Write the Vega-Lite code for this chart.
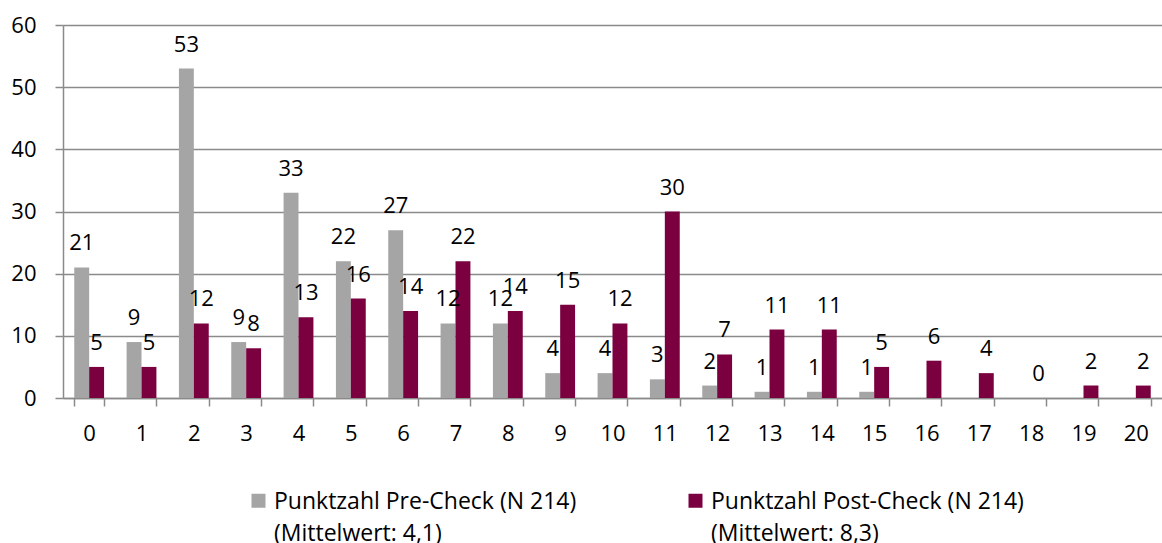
{
  "$schema": "https://vega.github.io/schema/vega-lite/v6.json",
  "width": 1099,
  "height": 373,
  "autosize": {"type": "none"},
  "padding": {"left": 63, "top": 25, "right": 0, "bottom": 145},
  "config": {
    "view": {"stroke": null},
    "font": "Open Sans",
    "style": {"guide-label": {"lineHeight": 32}}
  },
  "data": {
    "values": [
      {"k": 0, "s": "pre", "v": 21}, {"k": 0, "s": "post", "v": 5},
      {"k": 1, "s": "pre", "v": 9}, {"k": 1, "s": "post", "v": 5},
      {"k": 2, "s": "pre", "v": 53}, {"k": 2, "s": "post", "v": 12},
      {"k": 3, "s": "pre", "v": 9}, {"k": 3, "s": "post", "v": 8},
      {"k": 4, "s": "pre", "v": 33}, {"k": 4, "s": "post", "v": 13},
      {"k": 5, "s": "pre", "v": 22}, {"k": 5, "s": "post", "v": 16},
      {"k": 6, "s": "pre", "v": 27}, {"k": 6, "s": "post", "v": 14},
      {"k": 7, "s": "pre", "v": 12}, {"k": 7, "s": "post", "v": 22},
      {"k": 8, "s": "pre", "v": 12}, {"k": 8, "s": "post", "v": 14},
      {"k": 9, "s": "pre", "v": 4}, {"k": 9, "s": "post", "v": 15},
      {"k": 10, "s": "pre", "v": 4}, {"k": 10, "s": "post", "v": 12},
      {"k": 11, "s": "pre", "v": 3}, {"k": 11, "s": "post", "v": 30},
      {"k": 12, "s": "pre", "v": 2}, {"k": 12, "s": "post", "v": 7},
      {"k": 13, "s": "pre", "v": 1}, {"k": 13, "s": "post", "v": 11},
      {"k": 14, "s": "pre", "v": 1}, {"k": 14, "s": "post", "v": 11},
      {"k": 15, "s": "pre", "v": 1}, {"k": 15, "s": "post", "v": 5},
      {"k": 16, "s": "post", "v": 6},
      {"k": 17, "s": "post", "v": 4},
      {"k": 18, "s": "post", "v": 0},
      {"k": 19, "s": "post", "v": 2},
      {"k": 20, "s": "post", "v": 2}
    ]
  },
  "encoding": {
    "x": {
      "field": "k",
      "type": "ordinal",
      "scale": {"paddingInner": 0.43, "paddingOuter": 0.215},
      "axis": {
        "title": null,
        "labelAngle": 0,
        "tickBand": "extent",
        "tickSize": 8,
        "tickColor": "#8a8a8a",
        "tickWidth": 1.5,
        "domainColor": "#8a8a8a",
        "domainWidth": 1.5,
        "labelFontSize": 22,
        "labelColor": "black",
        "labelPadding": 17,
        "grid": false
      }
    },
    "xOffset": {"field": "s", "type": "nominal", "sort": ["pre", "post"], "scale": {"paddingInner": 0, "paddingOuter": 0}},
    "y": {
      "field": "v",
      "type": "quantitative",
      "scale": {"domain": [0, 60]},
      "axis": {
        "title": null,
        "values": [0, 10, 20, 30, 40, 50, 60],
        "tickSize": 8,
        "tickColor": "#8a8a8a",
        "tickWidth": 1.5,
        "domainColor": "#8a8a8a",
        "domainWidth": 1.5,
        "gridColor": "#8a8a8a",
        "gridWidth": 1.5,
        "labelPadding": 19,
        "labelFontSize": 22,
        "labelColor": "black"
      }
    }
  },
  "layer": [
    {
      "mark": {"type": "bar"},
      "encoding": {
        "color": {
          "field": "s",
          "type": "nominal",
          "scale": {"domain": ["pre", "post"], "range": ["#a5a5a5", "#7a0040"]},
          "legend": {
            "title": null,
            "orient": "none",
            "legendX": 184,
            "legendY": 454,
            "direction": "horizontal",
            "columns": 2,
            "columnPadding": 107,
            "symbolType": "M-1,0.43H1V2.43H-1Z",
            "symbolSize": 196,
            "symbolStrokeWidth": 0,
            "labelFontSize": 23,
            "labelFont": "Open Sans",
            "labelColor": "black",
            "labelOffset": 4,
            "labelLimit": 0,
            "labelBaseline": "top",
            "labelExpr": "datum.value == 'pre' ? ['Punktzahl Pre-Check (N 214)', '(Mittelwert: 4,1)'] : ['Punktzahl Post-Check (N 214)', '(Mittelwert: 8,3)']"
          }
        }
      }
    },
    {
      "mark": {"type": "text", "dy": -17, "baseline": "alphabetic", "fontSize": 22, "color": "black"},
      "encoding": {"text": {"field": "v", "type": "quantitative"}}
    }
  ]
}
